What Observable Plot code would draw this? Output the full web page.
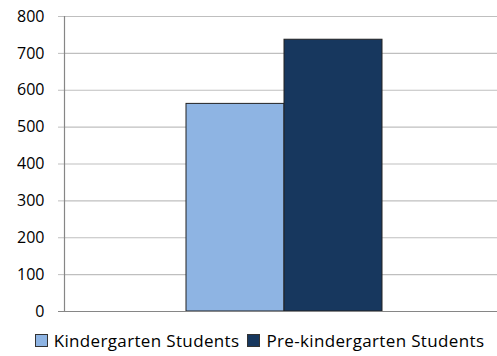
<!DOCTYPE html>
<html>
<head>
<meta charset="utf-8">
<script src="https://cdn.jsdelivr.net/npm/d3@7"></script>
<script src="https://cdn.jsdelivr.net/npm/@observablehq/plot@0.6"></script>
<style>
  html, body { margin: 0; padding: 0; background: #fff; }
  body { width: 497px; height: 356px; overflow: hidden; font-family: "Open Sans", sans-serif; }
  #legend { display: flex; justify-content: center; align-items: center; font-size: 17px; letter-spacing: 0.35px; color: #000; height: 30px; margin-top: 3px; padding-left: 22px; }
  .item { display: flex; align-items: center; margin: 0 4px; }
  .sw { width: 13px; height: 13px; border: 1px solid #333; margin-right: 6px; box-sizing: border-box; }
</style>
</head>
<body>
<div id="chart"></div>
<div id="legend"></div>
<script>
const series = ["Kindergarten Students", "Pre-kindergarten Students"];
const values = [563, 737];
const colors = ["#8EB4E3", "#17375E"];
const yTicks = [0, 100, 200, 300, 400, 500, 600, 700, 800];

const data = series.map((s, i) => ({ series: s, value: values[i] }));

const chart = Plot.plot({
  width: 497,
  height: 322,
  marginLeft: 64,
  marginRight: 0,
  marginTop: 16,
  marginBottom: 11,
  style: { fontFamily: "Open Sans, sans-serif", fontSize: "16px", color: "#000", background: "#fff" },
  x: { domain: series, paddingInner: 0, paddingOuter: 1.2, align: 0.516, axis: null },
  y: { domain: [0, 800], ticks: yTicks, label: null },
  color: { domain: series, range: colors },
  marks: [
    Plot.gridY(yTicks, { stroke: "#BFBFBF", strokeOpacity: 1, strokeWidth: 1.2 }),
    Plot.axisY(yTicks, { tickSize: 6, tickPadding: 14, stroke: "#BFBFBF", strokeOpacity: 1, tickFormat: d => d, fontSize: 16, fill: "#000", label: null }),
    Plot.barY(data, { x: "series", y: "value", fill: "series", stroke: "#222", strokeWidth: 1 }),
    Plot.ruleY([0], { stroke: "#868686", strokeWidth: 1.2, insetLeft: -6 }),
    Plot.frame({ anchor: "left", stroke: "#868686", strokeWidth: 1.2 })
  ]
});
document.getElementById("chart").appendChild(chart);

const legend = document.getElementById("legend");
series.forEach((s, i) => {
  const item = document.createElement("div");
  item.className = "item";
  const sw = document.createElement("div");
  sw.className = "sw";
  sw.style.background = colors[i];
  const label = document.createElement("span");
  label.textContent = s;
  item.appendChild(sw);
  item.appendChild(label);
  legend.appendChild(item);
});
</script>
</body>
</html>
